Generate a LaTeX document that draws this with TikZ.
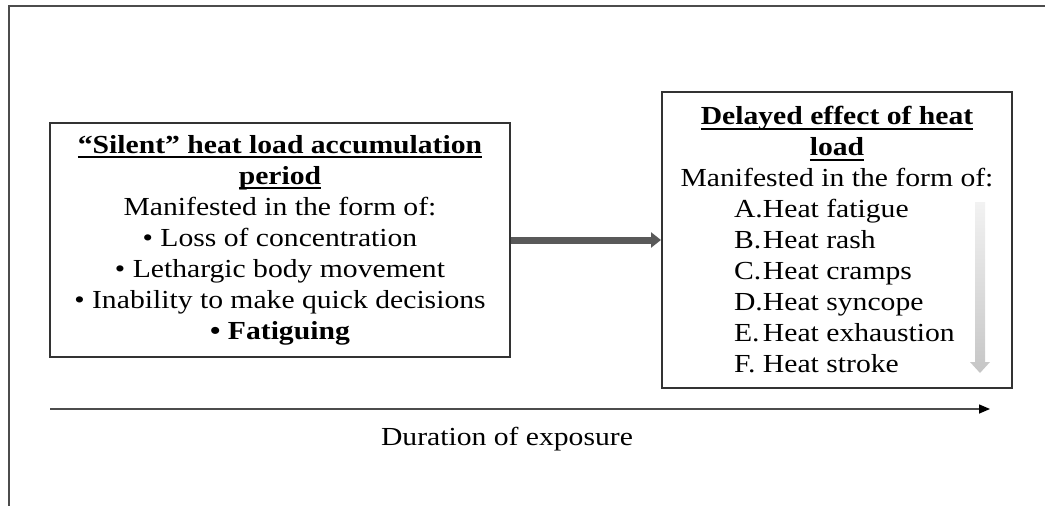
\documentclass[tikz,border=0pt]{standalone}
\usepackage{fontspec}
\setmainfont[FakeStretch=1.14]{Liberation Serif}
\usetikzlibrary{arrows.meta}
\newcommand{\ulinetext}[1]{\begingroup\setbox0\hbox{#1}\rlap{\rule[-5pt]{\wd0}{1.8pt}}\box0\endgroup}
\newcommand{\hitem}[2]{\makebox[206pt][l]{\makebox[29pt][l]{#1}#2}}
\begin{document}
\begin{tikzpicture}[x=1pt, y=-1pt,
    box/.style={draw=black!80, line width=2pt, align=center, inner sep=0pt, font=\fontsize{26}{31}\selectfont},
    flow/.style={black!65, line width=7pt, -{Triangle[length=10pt,width=15pt]}},
    timeline/.style={black!70, line width=1.5pt, -{Triangle[length=11pt,width=9pt,color=black]}}
]
    \useasboundingbox (0,0) rectangle (1045,506);
    % frame
    \draw[black!70, line width=2pt] (9,506) -- (9,6) -- (1045,6);

    % silent period
    \node[box, minimum width=460pt, minimum height=234pt] (silent) at (280,240)
        {\textbf{\ulinetext{“Silent” heat load accumulation}}\\
         \textbf{\ulinetext{period}}\\
         Manifested in the form of:\\
         • Loss of concentration\\
         • Lethargic body movement\\
         • Inability to make quick decisions\\
         \textbf{• Fatiguing}};

    % delayed effect
    \node[box, minimum width=350pt, minimum height=296pt] (delayed) at (837,240)
        {\textbf{\ulinetext{Delayed effect of heat}}\\
         \textbf{\ulinetext{load}}\\
         Manifested in the form of:\\
         \hitem{A.}{Heat fatigue}\\
         \hitem{B.}{Heat rash}\\
         \hitem{C.}{Heat cramps}\\
         \hitem{D.}{Heat syncope}\\
         \hitem{E.}{Heat exhaustion}\\
         \hitem{F.}{Heat stroke}};

    \draw[flow] (silent) -- (delayed);

    % severity arrow
    \shade[top color=gray!10, bottom color=gray!45]
        (975,202) -- (985,202) -- (985,362) -- (990,362) -- (980,373)
        -- (970,362) -- (975,362) -- cycle;

    % time axis
    \coordinate (tstart) at (50,409);
    \coordinate (tend) at (990,409);
    \draw[timeline] (tstart) -- (tend);
    \node[font=\fontsize{26}{31}\selectfont] (duration) at (507,439) {Duration of exposure};
\end{tikzpicture}
\end{document}
